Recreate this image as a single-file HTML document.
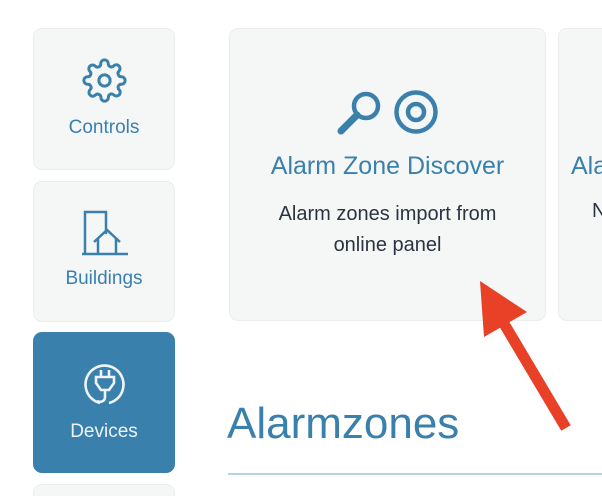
<!DOCTYPE html>
<html><head><meta charset="utf-8"><style>
html,body{margin:0;width:602px;height:496px;overflow:hidden}
body{background:#fff;position:relative;font-family:"Liberation Sans",sans-serif}
.c{position:absolute;background:#f5f7f7;border:1.5px solid #ebeded;border-radius:9px;box-sizing:border-box}
.lbl{position:absolute;width:100%;text-align:center;color:#3a80ad;font-size:19px}
</style></head><body>
<div class="c" style="left:33px;top:28px;width:142px;height:142px">
<svg style="position:absolute;left:48px;top:29px" width="45" height="45" viewBox="0 0 24 24" fill="none" stroke="#3a80ad" stroke-width="1.6"><circle cx="12" cy="12" r="3"/><path d="M19.4 15a1.650 1.650 0 0 0 .33 1.820l.06.06a2 2 0 1 1-2.830 2.830l-.06-.06a1.650 1.650 0 0 0-1.820-.33 1.650 1.650 0 0 0-1 1.510V21a2 2 0 1 1-4 0v-.09A1.650 1.650 0 0 0 9 19.400a1.650 1.650 0 0 0-1.820.33l-.06.06a2 2 0 1 1-2.830-2.830l.06-.06A1.650 1.650 0 0 0 4.680 15a1.650 1.650 0 0 0-1.510-1H3a2 2 0 1 1 0-4h.09A1.650 1.650 0 0 0 4.600 9a1.650 1.650 0 0 0-.33-1.820l-.06-.06a2 2 0 1 1 2.830-2.830l.06.06A1.650 1.650 0 0 0 9 4.680a1.650 1.650 0 0 0 1-1.510V3a2 2 0 1 1 4 0v.09a1.650 1.650 0 0 0 1 1.510 1.650 1.650 0 0 0 1.820-.33l.06-.06a2 2 0 1 1 2.830 2.830l-.06.06A1.650 1.650 0 0 0 19.400 9a1.650 1.650 0 0 0 1.510 1H21a2 2 0 1 1 0 4h-.09a1.650 1.650 0 0 0-1.510 1z"/></svg>
<div class="lbl" style="top:88px">Controls</div></div>
<div class="c" style="left:33px;top:181px;width:142px;height:141px">
<svg style="position:absolute;left:46px;top:27px" width="50" height="48" fill="none" stroke="#3a80ad" stroke-width="2.5"><path d="M5 45V3h21v22"/><path d="M2 45h46"/><path d="M14 33l13-12 13 12M18 30v15M36 30v15"/></svg>
<div class="lbl" style="top:86px">Buildings</div></div>
<div class="c" style="left:33px;top:332px;width:142px;height:141px;background:#3a80ad;border-color:#3a80ad">
<svg style="position:absolute;left:48px;top:28px" width="46" height="46" fill="none" stroke="#f0f4f7" stroke-width="2.6"><path d="M18 42A19 19 0 1 1 27 42"/><path d="M14 16h18v6l-5 7h-8l-5-7z M19 16v-7 M27 16v-7 M23 29v7c0 4-4 6-8 4"/></svg>
<div class="lbl" style="top:88px;color:#eef3f7">Devices</div></div>
<div class="c" style="left:33px;top:484px;width:142px;height:12px;border-bottom:none;border-radius:9px 9px 0 0"></div>
<div class="c" style="left:229px;top:28px;width:317px;height:293px">
<svg style="position:absolute;left:104px;top:60px" width="110" height="48" fill="none" stroke="#3a80ad"><circle cx="32" cy="17" r="12" stroke-width="4.5"/><path d="M23 26L7 42" stroke-width="7" stroke-linecap="round"/><circle cx="82" cy="23" r="19.500" stroke-width="4.5"/><circle cx="82" cy="23" r="8" stroke-width="4.5"/></svg>
<div class="lbl" style="top:123px;font-size:25px">Alarm Zone Discover</div>
<div class="lbl" style="top:170px;font-size:20px;color:#2a3440;line-height:31px">Alarm zones import from<br>online panel</div></div>
<div class="c" style="left:558px;top:28px;width:44px;height:293px;border-right:none;border-radius:9px 0 0 9px">
<div style="position:absolute;left:12px;top:123px;font-size:25px;color:#3a80ad;white-space:nowrap">Ala</div>
<div style="position:absolute;left:33px;top:171px;font-size:20px;color:#2a3440">N</div></div>
<div style="position:absolute;left:227px;top:399px;font-size:44px;color:#3a80ad">Alarmzones</div>
<div style="position:absolute;left:228px;top:473px;width:374px;height:2px;background:#b4d3e6"></div>
<svg style="position:absolute;left:0;top:0" width="602" height="496"><path d="M566 428L503 322" stroke="#e84127" stroke-width="11"/><polygon points="480,281 527,312 484,337" fill="#e84127"/></svg>
</body></html>
